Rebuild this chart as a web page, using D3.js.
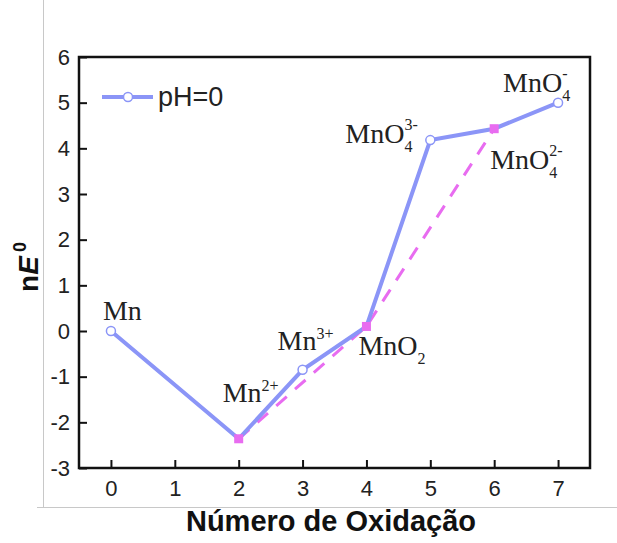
<!DOCTYPE html>
<html>
<head>
<meta charset="utf-8">
<script src="https://cdn.jsdelivr.net/npm/d3@7"></script>
<style>
  body { margin: 0; background: #fff; }
  svg { display: block; }
  .lbl { font-family: "Liberation Serif", "Times New Roman", serif; font-size: 28px; fill: #222; }
</style>
</head>
<body>
<svg id="chart" width="617" height="543"></svg>
<script>
// oxidation states and nE0 values (pH=0)
var states = [0, 2, 3, 4, 5, 6, 7]
var nE = [0, -2.36, -0.85, 0.1, 4.18, 4.43, 5.0]
// dashed line through the stable species
var dashStates = [2, 4, 6]
var dashNE = [-2.36, 0.1, 4.43]
var xTicks = [0, 1, 2, 3, 4, 5, 6, 7]
var yTicks = [-3, -2, -1, 0, 1, 2, 3, 4, 5, 6]
// species labels: base, sub, sup
var species = [
    { x: 0, y: 0, base: "Mn", sub: "", sup: "" },
    { x: 2, y: -2.36, base: "Mn", sub: "", sup: "2+" },
    { x: 3, y: -0.85, base: "Mn", sub: "", sup: "3+" },
    { x: 4, y: 0.1, base: "MnO", sub: "2", sup: "" },
    { x: 5, y: 4.18, base: "MnO", sub: "4", sup: "3-" },
    { x: 6, y: 4.43, base: "MnO", sub: "4", sup: "2-" },
    { x: 7, y: 5.0, base: "MnO", sub: "4", sup: "-" }
]
var labelOffsets = [[-8, -11], [-16, -37], [-25, -20], [-8, 29], [-85, 3], [-4, 40], [-55, -11]]

var svg = d3.select("#chart"),
    margin = { top: 57, right: 27, bottom: 75, left: 79 },
    width = +svg.attr("width") - margin.left - margin.right,
    height = +svg.attr("height") - margin.top - margin.bottom

var blue = "#8b95f7", magenta = "#e86cf0"

// grey picture frame
svg.append("line").attr("x1", 43.5).attr("x2", 43.5).attr("y1", 0).attr("y2", 507.5)
    .attr("stroke", "#c8c8c8").attr("stroke-width", 1)
svg.append("line").attr("x1", 37).attr("x2", 617).attr("y1", 507.5).attr("y2", 507.5)
    .attr("stroke", "#c8c8c8").attr("stroke-width", 1)

var x = d3.scaleLinear().domain([-0.5, 7.5]).range([0, width])
var y = d3.scaleLinear().domain([-3, 6]).range([height, 0])

var g = svg.append("g").attr("transform", "translate(" + margin.left + "," + margin.top + ")")

var fmt = function (d) { return String(d) }
var xAxis = g.append("g")
    .attr("transform", "translate(0," + height + ")")
    .call(d3.axisBottom(x).tickValues(xTicks).tickFormat(fmt).tickSizeInner(-8).tickSizeOuter(0).tickPadding(12))
var yAxis = g.append("g")
    .call(d3.axisLeft(y).tickValues(yTicks).tickFormat(fmt).tickSizeInner(-8).tickSizeOuter(0).tickPadding(9))
g.selectAll(".domain").remove()
g.selectAll(".tick line").attr("stroke", "#111").attr("stroke-width", 2)
g.selectAll(".tick text")
    .style("font-family", "Liberation Sans, Arial, sans-serif")
    .style("font-size", "22px")
    .attr("fill", "#222")

g.append("rect").attr("width", width).attr("height", height)
    .attr("fill", "none").attr("stroke", "#111").attr("stroke-width", 2.5)

var solid = d3.line().x(function (d, i) { return x(states[i]) }).y(function (d) { return y(d) })
var dashed = d3.line().x(function (d, i) { return x(dashStates[i]) }).y(function (d) { return y(d) })

g.append("path").attr("d", dashed(dashNE))
    .attr("fill", "none").attr("stroke", magenta).attr("stroke-width", 3)
    .attr("stroke-dasharray", "14,11")
g.append("path").attr("d", solid(nE))
    .attr("fill", "none").attr("stroke", blue).attr("stroke-width", 4)

g.selectAll("rect.sq").data(dashNE).enter().append("rect")
    .attr("class", "sq")
    .attr("x", function (d, i) { return x(dashStates[i]) - 4.5 })
    .attr("y", function (d) { return y(d) - 4.5 })
    .attr("width", 9).attr("height", 9)
    .attr("fill", magenta)

g.selectAll("circle.pt").data(nE).enter()
    .filter(function (d, i) { return dashStates.indexOf(states[i]) < 0 })
    .append("circle")
    .attr("class", "pt")
    .attr("cx", function (d) { return x(states[nE.indexOf(d)]) })
    .attr("cy", function (d) { return y(d) })
    .attr("r", 4.5)
    .attr("fill", "#fff").attr("stroke", blue).attr("stroke-width", 1.5)

// species labels
species.forEach(function (s, i) {
    var t = g.append("text").attr("class", "lbl")
        .attr("x", x(s.x) + labelOffsets[i][0])
        .attr("y", y(s.y) + labelOffsets[i][1])
    t.append("tspan").text(s.base)
    if (s.sub) t.append("tspan").attr("font-size", 16).attr("dy", 9).text(s.sub)
    if (s.sup) {
        var sp = t.append("tspan").attr("font-size", 16).text(s.sup)
        if (s.sub) sp.attr("dx", -8).attr("dy", -22)
        else sp.attr("dy", -11)
    }
})

// legend
var leg = g.append("g").attr("transform", "translate(23,40)")
leg.append("line").attr("x1", 0).attr("x2", 51).attr("stroke", blue).attr("stroke-width", 4)
leg.append("circle").attr("cx", 26).attr("r", 4.5)
    .attr("fill", "#fff").attr("stroke", blue).attr("stroke-width", 1.5)
leg.append("text").attr("x", 56).attr("y", 9)
    .style("font-family", "Liberation Sans, Arial, sans-serif").style("font-size", "27px")
    .attr("fill", "#222").text("pH=0")

// axis titles
svg.append("text")
    .attr("x", 331).attr("y", 531)
    .attr("text-anchor", "middle")
    .style("font-family", "Liberation Sans, Arial, sans-serif").style("font-size", "29px")
    .style("font-weight", "bold").attr("fill", "#111")
    .text("Número de Oxidação")

var yt = svg.append("text")
    .attr("transform", "translate(38,267) rotate(-90)")
    .attr("text-anchor", "middle")
    .style("font-family", "Liberation Sans, Arial, sans-serif").style("font-size", "28px")
    .style("font-weight", "bold").attr("fill", "#111")
yt.append("tspan").text("n")
yt.append("tspan").style("font-style", "italic").text("E")
yt.append("tspan").attr("font-size", 18).attr("dx", 4).attr("dy", -12).text("0")
</script>
</body>
</html>
